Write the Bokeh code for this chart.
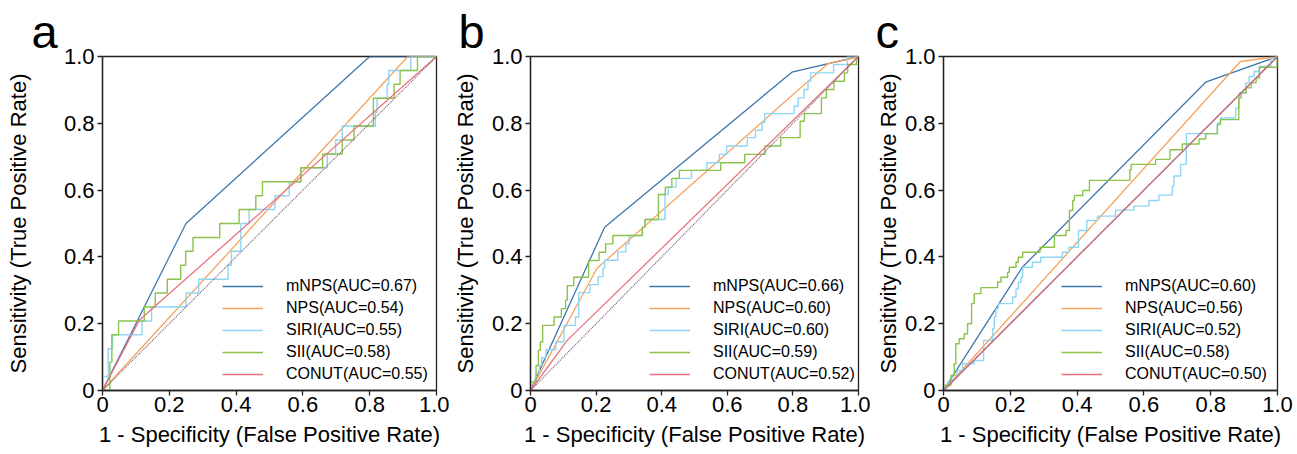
from bokeh.plotting import figure
from bokeh.models import Range1d, FixedTicker, Legend, LegendItem
from bokeh.layouts import row
from bokeh.embed import file_html
from bokeh.resources import INLINE

# ---------------- data ----------------
SERIES = ["mNPS", "NPS", "SIRI", "SII", "CONUT"]
TICKS = [0, 0.2, 0.4, 0.6, 0.8, 1.0]
DIAG = [0, 1]

# panel a
A_AUC = [0.67, 0.54, 0.55, 0.58, 0.55]
A_MNPS_X = [0, 0.25, 0.80, 1.0]
A_MNPS_Y = [0, 0.50, 1.0, 1.0]
A_NPS_X = [0, 0.914, 1.0]
A_NPS_Y = [0, 1.0, 1.0]
A_SIRI_X = [0, 0, 0.017, 0.03, 0.118, 0.147, 0.25, 0.288, 0.376, 0.386, 0.414, 0.439, 0.516, 0.559,
            0.594, 0.673, 0.698, 0.718, 0.817, 0.822, 0.852, 0.857, 0.923, 1.0]
A_SIRI_Y = [0, 0.042, 0.125, 0.167, 0.208, 0.25, 0.292, 0.333, 0.375, 0.417, 0.5, 0.542, 0.583, 0.625,
            0.667, 0.708, 0.75, 0.792, 0.833, 0.875, 0.917, 0.958, 1.0, 1.0]
A_SII_X = [0, 0.022, 0.028, 0.048, 0.125, 0.158, 0.194, 0.234, 0.249, 0.271, 0.351, 0.409, 0.459,
           0.479, 0.594, 0.659, 0.718, 0.753, 0.811, 0.873, 0.891, 0.943, 1.0]
A_SII_Y = [0, 0.085, 0.167, 0.208, 0.25, 0.292, 0.333, 0.375, 0.417, 0.458, 0.5, 0.542, 0.583,
           0.625, 0.667, 0.708, 0.75, 0.792, 0.875, 0.917, 0.958, 1.0, 1.0]
A_CONUT_X = [0, 0.11, 1.0]
A_CONUT_Y = [0, 0.21, 1.0]

# panel b
B_AUC = [0.66, 0.60, 0.60, 0.59, 0.52]
B_MNPS_X = [0, 0.226, 0.797, 1.0]
B_MNPS_Y = [0, 0.489, 0.953, 1.0]
B_NPS_X = [0, 0.203, 0.906, 1.0]
B_NPS_Y = [0, 0.366, 0.978, 1.0]
B_SIRI_X = [0, 0, 0.017, 0.027, 0.034, 0.047, 0.077, 0.102, 0.137, 0.147, 0.181, 0.206, 0.221, 0.226,
            0.266, 0.291, 0.301, 0.341, 0.349, 0.41, 0.42, 0.444, 0.491, 0.538, 0.576, 0.598, 0.661,
            0.686, 0.706, 0.714, 0.804, 0.816, 0.834, 0.846, 0.854, 0.924, 0.966, 1.0]
B_SIRI_Y = [0, 0.025, 0.05, 0.075, 0.098, 0.122, 0.146, 0.195, 0.22, 0.293, 0.317, 0.341, 0.366, 0.39,
            0.415, 0.439, 0.464, 0.488, 0.512, 0.587, 0.609, 0.635, 0.659, 0.682, 0.707, 0.732, 0.757,
            0.779, 0.802, 0.829, 0.851, 0.876, 0.901, 0.926, 0.951, 0.976, 1.0, 1.0]
B_SII_X = [0, 0, 0.017, 0.024, 0.03, 0.037, 0.072, 0.094, 0.107, 0.112, 0.132, 0.177, 0.209, 0.229,
           0.251, 0.341, 0.349, 0.39, 0.411, 0.431, 0.454, 0.58, 0.653, 0.715, 0.763, 0.822, 0.835,
           0.887, 0.902, 0.925, 0.957, 0.967, 0.994, 1.0]
B_SII_Y = [0, 0.025, 0.075, 0.12, 0.145, 0.195, 0.22, 0.245, 0.27, 0.314, 0.339, 0.389, 0.414, 0.439,
           0.464, 0.489, 0.512, 0.587, 0.609, 0.635, 0.659, 0.682, 0.707, 0.732, 0.757, 0.806, 0.829,
           0.876, 0.901, 0.926, 0.951, 0.976, 1.0, 1.0]
B_CONUT_X = [0, 0.112, 1.0]
B_CONUT_Y = [0, 0.15, 1.0]

# panel c
C_AUC = [0.60, 0.56, 0.52, 0.58, 0.50]
C_MNPS_X = [0, 0.236, 0.785, 1.0]
C_MNPS_Y = [0, 0.369, 0.923, 1.0]
C_NPS_X = [0, 0.889, 1.0]
C_NPS_Y = [0, 0.985, 1.0]
C_SIRI_X = [0, 0, 0.012, 0.025, 0.04, 0.057, 0.092, 0.12, 0.147, 0.152, 0.157, 0.164, 0.207, 0.217,
            0.224, 0.232, 0.237, 0.266, 0.291, 0.356, 0.376, 0.404, 0.429, 0.461, 0.515, 0.57, 0.615,
            0.645, 0.685, 0.69, 0.71, 0.727, 0.82, 0.83, 0.875, 0.885, 0.905, 0.915, 0.93, 0.945,
            0.98, 0.995, 1.0]
C_SIRI_Y = [0, 0.012, 0.025, 0.045, 0.06, 0.08, 0.09, 0.15, 0.185, 0.22, 0.245, 0.26, 0.28, 0.304,
            0.324, 0.339, 0.369, 0.384, 0.399, 0.414, 0.429, 0.479, 0.509, 0.522, 0.54, 0.552, 0.569,
            0.585, 0.612, 0.642, 0.677, 0.769, 0.801, 0.816, 0.846, 0.891, 0.921, 0.94, 0.955, 0.97,
            0.995, 1.0, 1.0]
C_SII_X = [0, 0, 0.022, 0.032, 0.037, 0.047, 0.062, 0.072, 0.084, 0.092, 0.112, 0.162, 0.172, 0.192,
           0.197, 0.217, 0.224, 0.237, 0.289, 0.332, 0.367, 0.377, 0.387, 0.392, 0.417, 0.437, 0.558,
           0.562, 0.635, 0.678, 0.715, 0.765, 0.785, 0.82, 0.829, 0.884, 0.891, 0.906, 0.921, 0.936,
           0.946, 0.999, 1.0]
C_SII_Y = [0, 0.015, 0.045, 0.08, 0.14, 0.155, 0.17, 0.2, 0.26, 0.29, 0.308, 0.325, 0.339, 0.354,
           0.369, 0.384, 0.399, 0.414, 0.429, 0.464, 0.479, 0.539, 0.569, 0.584, 0.599, 0.629, 0.661,
           0.677, 0.692, 0.721, 0.738, 0.753, 0.769, 0.796, 0.811, 0.876, 0.891, 0.906, 0.921, 0.936,
           0.968, 1.0, 1.0]
C_CONUT_X = [0, 1.0]
C_CONUT_Y = [0, 1.0]

X_LABEL = "1 - Specificity (False Positive Rate)"
Y_LABEL = "Sensitivity (True Positive Rate)"

# ---------------- style ----------------
COLORS = {"mNPS": "#3f77ad", "NPS": "#f7a35c", "SIRI": "#8dd6f5", "SII": "#8bc34a", "CONUT": "#e8737d"}
DIAG_COLOR = "#7d5f74"
FONT = "Liberation Sans"
AX = "#222222"


def make_panel(letter, curves, aucs, width, left, right, title_off, ylab_standoff, leg_x):
    p = figure(width=width, height=453, x_range=Range1d(0, 1), y_range=Range1d(0, 1),
               output_backend="svg", toolbar_location=None,
               min_border_left=left, min_border_right=right, min_border_top=56, min_border_bottom=63)
    p.xgrid.visible = False
    p.ygrid.visible = False
    p.outline_line_color = AX
    p.outline_line_width = 1.3

    p.title.text = letter
    p.title.align = "left"
    p.title.offset = title_off
    p.title.standoff = -2
    p.title.text_font = FONT
    p.title.text_font_size = "47px"
    p.title.text_font_style = "normal"
    p.title.text_color = "black"

    for ax in (p.xaxis[0], p.yaxis[0]):
        ax.ticker = FixedTicker(ticks=TICKS)
        ax.major_label_overrides = {0: "0", 1: "1.0"}
        ax.major_label_text_font = FONT
        ax.major_label_text_font_size = "22px"
        ax.major_label_text_color = "black"
        ax.axis_line_color = AX
        ax.axis_line_width = 1.3
        ax.major_tick_line_color = AX
        ax.major_tick_line_width = 1.3
        ax.major_tick_out = 5
        ax.major_tick_in = 0
        ax.minor_tick_out = 0
        ax.minor_tick_in = 0
        ax.axis_label_text_font = FONT
        ax.axis_label_text_font_size = "22px"
        ax.axis_label_text_font_style = "normal"
        ax.axis_label_text_color = "black"
    p.xaxis[0].axis_label = X_LABEL
    p.yaxis[0].axis_label = Y_LABEL
    p.xaxis[0].major_label_standoff = 1
    p.yaxis[0].major_label_standoff = 3
    p.xaxis[0].axis_label_standoff = 7
    p.yaxis[0].axis_label_standoff = ylab_standoff

    renderers = []
    for name in SERIES:
        xs, ys, kind = curves[name]
        if kind == "step":
            r = p.step(xs, ys, mode="after", line_color=COLORS[name], line_width=1.4)
        else:
            r = p.line(xs, ys, line_color=COLORS[name], line_width=1.3)
        renderers.append(r)
    p.line(DIAG, DIAG, line_color=DIAG_COLOR, line_width=1.2, line_dash="1 1")

    items = [LegendItem(label=f"{n}(AUC={a:.2f})", renderers=[r])
             for n, a, r in zip(SERIES, aucs, renderers)]
    legend = Legend(items=items, location=(leg_x, 6), glyph_width=41, glyph_height=20,
                    label_height=20, label_standoff=23, spacing=2, padding=0, margin=0,
                    border_line_alpha=0, background_fill_alpha=0,
                    label_text_font=FONT, label_text_font_size="16px", label_text_color="black")
    p.add_layout(legend)
    return p


pa = make_panel("a", {"mNPS": (A_MNPS_X, A_MNPS_Y, "line"), "NPS": (A_NPS_X, A_NPS_Y, "line"),
                      "SIRI": (A_SIRI_X, A_SIRI_Y, "step"), "SII": (A_SII_X, A_SII_Y, "step"),
                      "CONUT": (A_CONUT_X, A_CONUT_Y, "line")}, A_AUC,
                449, 102, 13, -71, 30, 120)
pb = make_panel("b", {"mNPS": (B_MNPS_X, B_MNPS_Y, "line"), "NPS": (B_NPS_X, B_NPS_Y, "line"),
                      "SIRI": (B_SIRI_X, B_SIRI_Y, "step"), "SII": (B_SII_X, B_SII_Y, "step"),
                      "CONUT": (B_CONUT_X, B_CONUT_Y, "line")}, B_AUC,
                421, 75, 12, -72, 11, 119)
pc = make_panel("c", {"mNPS": (C_MNPS_X, C_MNPS_Y, "line"), "NPS": (C_NPS_X, C_NPS_Y, "line"),
                      "SIRI": (C_SIRI_X, C_SIRI_Y, "step"), "SII": (C_SII_X, C_SII_Y, "step"),
                      "CONUT": (C_CONUT_X, C_CONUT_Y, "line")}, C_AUC,
                425, 73, 18, -68, 1, 118)

layout = row(pa, pb, pc)
open("out.html", "w").write(file_html(layout, INLINE))
